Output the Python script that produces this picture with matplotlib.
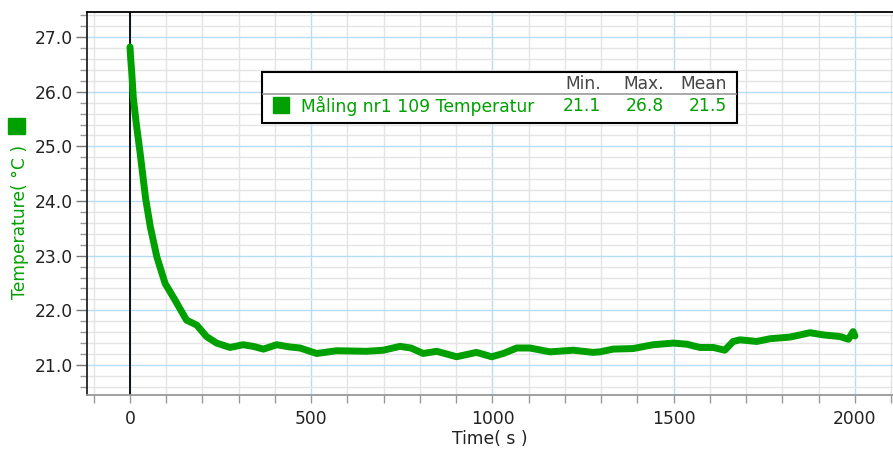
import matplotlib
matplotlib.use("Agg")
import matplotlib.pyplot as plt
from matplotlib.patches import Rectangle
from matplotlib.ticker import MultipleLocator

plt.rcParams["font.family"] = ["DejaVu Sans"]

# readings: time (s) and temperature (degC)
time_s = [0, 2, 5, 9, 18, 27, 43, 56, 74, 97, 124, 156, 184, 211, 239, 276,
          312, 340, 368, 405, 440, 469, 515, 570, 653, 699, 745, 775, 809,
          846, 874, 901, 956, 998, 1030, 1067, 1103, 1159, 1223, 1278, 1297,
          1333, 1388, 1443, 1499, 1536, 1572, 1609, 1641, 1664, 1683, 1729,
          1766, 1821, 1876, 1913, 1959, 1982, 1995, 2000]
temp_c = [26.82, 26.6, 26.34, 25.9, 25.38, 24.93, 24.05, 23.53, 22.98, 22.49,
          22.19, 21.82, 21.73, 21.52, 21.40, 21.32, 21.37, 21.34, 21.29, 21.37,
          21.33, 21.31, 21.21, 21.26, 21.25, 21.27, 21.34, 21.31, 21.21, 21.25,
          21.20, 21.15, 21.23, 21.15, 21.21, 21.31, 21.31, 21.24, 21.27, 21.23,
          21.24, 21.29, 21.30, 21.37, 21.40, 21.38, 21.32, 21.32, 21.27, 21.43,
          21.46, 21.43, 21.48, 21.51, 21.59, 21.55, 21.52, 21.47, 21.61, 21.53]

series_name = "Måling nr1 109 Temperatur"
stat_names = ["Min.", "Max.", "Mean"]
stat_values = ["21.1", "26.8", "21.5"]

green = "#00a000"
fs = 12.3
W, H = 893, 450
fig = plt.figure(figsize=(W / 100, H / 100), dpi=100)
ax = fig.add_axes([87 / W, 55 / H, 1 - 87 / W, (395 - 12) / H])


def fx(px):
    return px / W


def fy(py):
    return 1 - py / H


ax.set_xlim(-118.6, 2105)
ax.set_ylim(20.45, 27.46)

# grids: grey minor, light blue major
ax.xaxis.set_major_locator(MultipleLocator(500))
ax.xaxis.set_minor_locator(MultipleLocator(100))
ax.yaxis.set_major_locator(MultipleLocator(1))
ax.yaxis.set_minor_locator(MultipleLocator(0.2))
ax.grid(which="minor", color="#e4e4e4", lw=1.0)
ax.grid(which="major", color="#b5ddf5", lw=1.0)
ax.set_axisbelow(True)
ax.yaxis.set_major_formatter(lambda v, p: f"{v:.1f}")

ax.axvline(0, color="black", lw=1.3, zorder=2)
ax.plot(time_s, temp_c, color=green, lw=5, solid_capstyle="round",
        solid_joinstyle="round", zorder=3)

ax.spines["right"].set_visible(False)
ax.spines["top"].set_color("black")
ax.spines["top"].set_linewidth(1.3)
ax.spines["left"].set_color("#222222")
ax.spines["left"].set_linewidth(1.3)
ax.spines["bottom"].set_color("#999999")
ax.spines["bottom"].set_linewidth(1.3)

ax.tick_params(axis="x", which="both", length=6, color="#999999", width=1,
               labelsize=fs, labelcolor="#222222", pad=5)
ax.tick_params(axis="y", which="major", length=8, color="#777777", width=1,
               labelsize=fs, labelcolor="#222222", pad=2)
ax.tick_params(axis="y", which="minor", length=5, color="#999999", width=1)

ax.set_xlabel("Time( s )", fontsize=fs, color="#222222", labelpad=1)
fig.text(fx(20), fy(222), "Temperature( °C )", rotation=90, color=green,
         fontsize=fs, ha="center", va="center")
fig.patches.append(Rectangle((fx(8), fy(134)), fx(17), 16 / H,
                             transform=fig.transFigure, color=green))

# stats box
fig.patches.append(Rectangle((fx(262), fy(123)), fx(737 - 262), (123 - 72) / H,
                             transform=fig.transFigure, facecolor="white",
                             edgecolor="black", lw=1.5, zorder=5))
fig.lines.append(plt.Line2D([fx(263), fx(736)], [fy(94), fy(94)],
                            transform=fig.transFigure, color="#999999", lw=1.2,
                            zorder=6))
fig.patches.append(Rectangle((fx(273), fy(113)), fx(16), 16 / H,
                             transform=fig.transFigure, color=green, zorder=6))
fig.text(fx(301), fy(106), series_name, color=green, fontsize=fs,
         ha="left", va="center", zorder=7)
col_right = [601, 664, 727]
for name, val, xr in zip(stat_names, stat_values, col_right):
    fig.text(fx(xr), fy(84), name, color="#444444", fontsize=fs,
             ha="right", va="center", zorder=7)
    fig.text(fx(xr), fy(106), val, color=green, fontsize=fs,
             ha="right", va="center", zorder=7)

fig.savefig("out.png", dpi=100)
